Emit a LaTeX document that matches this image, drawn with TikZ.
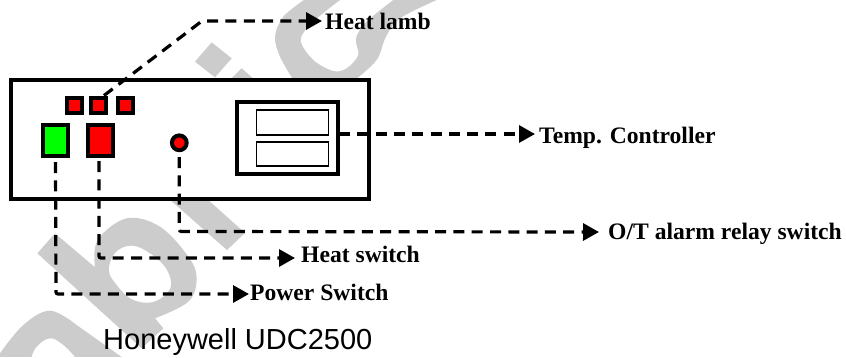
\documentclass[tikz,border=0pt]{standalone}
\usepackage{fontspec}
\setmainfont{Liberation Serif}
\newfontfamily\honeyfont{Liberation Sans}
\usetikzlibrary{arrows.meta,calc}
\definecolor{wm}{gray}{0.8}
\tikzset{
  x=1pt,y=-1pt,
  wmark/.style={fill=wm,draw=none},
  panel/.style={draw=black,fill=white,line width=4pt,inner sep=0pt,minimum width=358.5pt,minimum height=118.5pt},
  display/.style={draw=black,fill=white,line width=4pt,inner sep=0pt,minimum width=101pt,minimum height=72pt},
  window/.style={draw=black,fill=white,line width=1.6pt,inner sep=0pt,minimum width=72pt,minimum height=24.5pt},
  led/.style={draw=black,fill=red,line width=4pt,inner sep=0pt,minimum width=15pt,minimum height=15pt},
  bigbtn/.style={draw=black,line width=4pt,inner sep=0pt,minimum width=25pt,minimum height=31pt},
  lamp/.style={circle,draw=black,fill=red,line width=4pt,inner sep=0pt,minimum size=14.8pt},
  conn/.style={draw=black,line width=3.2pt,dash pattern=on 11pt off 7.3pt,rounded corners=2pt,
     -{Triangle[length=16pt,width=17pt]}},
  lbl/.style={font=\fontsize{23.6}{28}\selectfont\bfseries,inner sep=0pt,anchor=base west},
}
\begin{document}
\begin{tikzpicture}
\useasboundingbox (0,0) rectangle (846,357);
\fill[white] (0,0) rectangle (846,357);
% watermark
\begin{scope}[shift={(180,0)},x=0.3333pt,y=-0.3333pt]
\fill[wmark] plot[smooth,tension=.55] coordinates {(372,0)(310,50)(285,110)(300,170)(340,240)}
  -- (525,240) -- plot[smooth,tension=.55] coordinates {(525,240)(590,180)(618,110)(660,55)(770,0)}
  -- (640,0) -- plot[smooth,tension=.55] coordinates {(640,0)(560,65)(528,115)(535,165)(500,205)(460,213)(400,180)(362,120)(400,65)(480,0)} -- cycle;
\fill[wmark] (95,127) -- (155,175) -- (105,232) -- (45,185) -- cycle;
\fill[wmark] (185,205) -- (225,240) -- (150,240) -- cycle;
\end{scope}
\fill[wmark] (168,198) -- (227,250) -- (245,233) -- (206,198) -- cycle;
\begin{scope}[shift={(0,190)},x=0.3333pt,y=-0.3333pt]
\fill[wmark,even odd rule] (112,190) -- (165,130) -- (285,232)
  -- plot[smooth,tension=.6] coordinates {(285,232)(293,150)(380,85)(480,110)(565,200)(590,265)(565,335)(465,385)}
  -- (490,415) -- (425,475) -- cycle
  plot[smooth cycle,tension=.8] coordinates {(328,225)(375,170)(450,190)(510,260)(490,320)(415,335)(350,285)};
\fill[wmark,even odd rule] (0,501) -- (0,490) -- plot[smooth,tension=.6] coordinates {(0,490)(70,405)(150,362)(230,405)} -- (365,501) -- (225,501)
  -- plot[smooth,tension=.7] coordinates {(225,501)(190,465)(150,445)(110,470)(95,501)} -- cycle;
\end{scope}
% device
\node[panel] (box) at (189.75,139.25) {};
\node[display] (ctrl) at (287.5,138) {};
\node[window] (w1) at (292.5,122.5) {};
\node[window] (w2) at (292.5,154) {};
\node[led] (l1) at (74,105) {};
\node[led] (l2) at (98.5,105) {};
\node[led] (l3) at (125,105.7) {};
\node[bigbtn,fill=green] (pow) at (55.5,140.8) {};
\node[bigbtn,fill=red] (heat) at (100.5,140) {};
\node[lamp] (alarm) at (179.3,142.8) {};
% labels
\node[lbl] (tl) at (325,29.5) {Heat lamb};
\node[lbl] (tc) at (539,143) {Temp. Controller};
\node[lbl] (to) at (608,239.5) {O/T alarm relay switch};
\node[lbl] (th) at (301,262) {Heat switch};
\node[lbl] (tp) at (250,300) {Power Switch};
\node[inner sep=0pt,anchor=base west,font=\fontsize{29}{34}\selectfont\honeyfont] (hw) at (103,349) {Honeywell UDC2500};
% connectors
\coordinate (cl) at ($(tl.base west)+(-3,-8.5)$);
\draw[conn] (l2.60) -- (202,21) -- (cl);
\draw[conn,shorten <=-1pt] (ctrl.east |- 0,134) -- ($(tc.base west)+(-4,-9)$);
\draw[conn] (alarm.south |- 0,157) -- (179.3,231.5) -- ($(to.base west)+(-9,-7.5)$);
\draw[conn] (99,161) -- (99,258) -- ($(th.base west)+(-6,-4)$);
\draw[conn] (55.5,162) -- (56,294) -- ($(tp.base west)+(-1,-6)$);
\end{tikzpicture}
\end{document}
